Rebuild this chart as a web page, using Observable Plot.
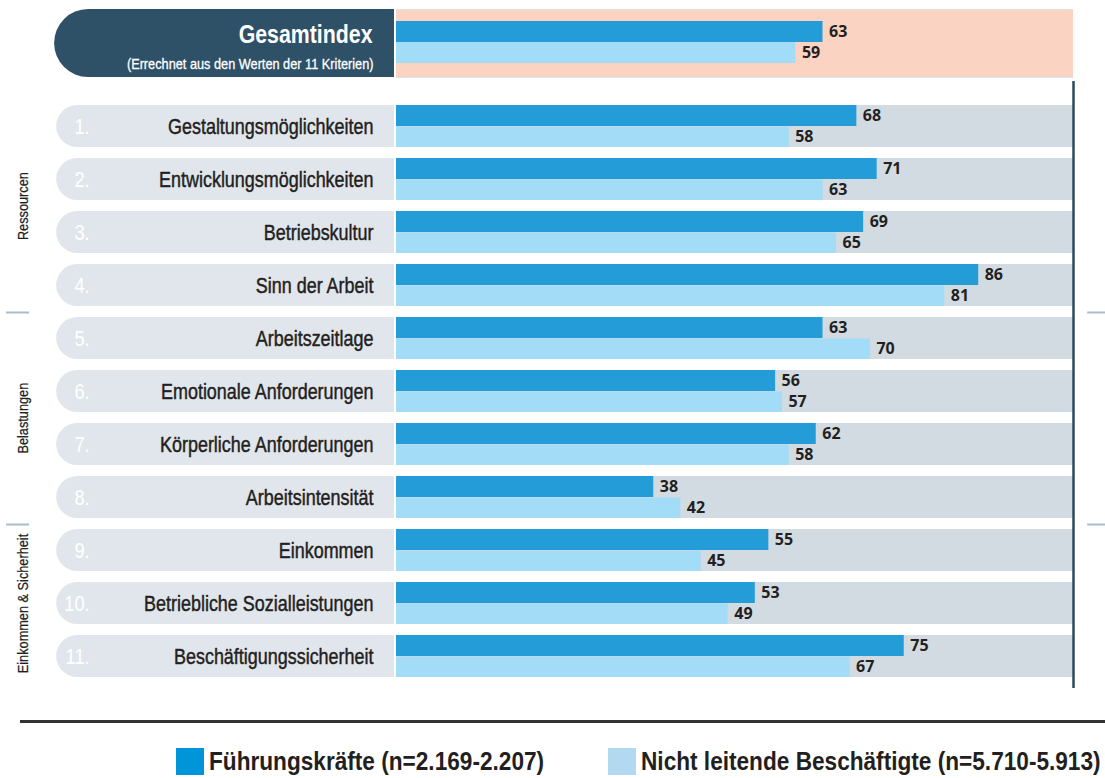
<!DOCTYPE html>
<html>
<head>
<meta charset="utf-8">
<script src="https://cdn.jsdelivr.net/npm/d3@7"></script>
<script src="https://cdn.jsdelivr.net/npm/@observablehq/plot@0.6"></script>
<style>
  html, body { margin: 0; padding: 0; background: #fff; }
  #wrap { width: 1105px; }
  #wrap svg { display: block; }
  #bottom { position: relative; height: 78px; width: 1105px; font-family: "Liberation Sans", Arial, sans-serif; }
  #bottom .line { position: absolute; left: 20px; right: 0; top: 20px; height: 3px; background: #333; }
  #bottom .sw { position: absolute; top: 48px; width: 28px; height: 27px; }
  #bottom .lab { position: absolute; top: 46px; font-size: 25px; font-weight: bold; color: #231f20; line-height: 30px; white-space: nowrap; transform: scaleX(0.905); transform-origin: 0 50%; }
</style>
</head>
<body>
<div id="wrap"></div>
<div id="bottom"></div>
<script>
// ---- data ----
const criteria = [
  "Gestaltungsmöglichkeiten", "Entwicklungsmöglichkeiten", "Betriebskultur", "Sinn der Arbeit",
  "Arbeitszeitlage", "Emotionale Anforderungen", "Körperliche Anforderungen", "Arbeitsintensität",
  "Einkommen", "Betriebliche Sozialleistungen", "Beschäftigungssicherheit"
];
const numbers = ["1.", "2.", "3.", "4.", "5.", "6.", "7.", "8.", "9.", "10.", "11."];
const fuehrungskraefte = [68, 71, 69, 86, 63, 56, 62, 38, 55, 53, 75];
const nichtLeitende = [58, 63, 65, 81, 70, 57, 58, 42, 45, 49, 67];
const gesamtLabel = ["Gesamtindex"];
const gesamtSub = ["(Errechnet aus den Werten der 11 Kriterien)"];
const gesamtFK = [63];
const gesamtNL = [59];
const groups = ["Ressourcen", "Belastungen", "Einkommen & Sicherheit"];
const groupFirst = [0, 4, 8];
const groupLast = [3, 7, 10];
const seriesNames = ["Führungskräfte (n=2.169-2.207)", "Nicht leitende Beschäftigte (n=5.710-5.913)"];

// ---- style ----
const FONT = '"Liberation Sans", Arial, sans-serif';
const NUMFONT = '"Open Sans", "DejaVu Sans", sans-serif';
const DARK = "#249cd8", LIGHT = "#a2dcf7", GRAY = "#d3dbe2", PILL = "#e1e6ec";
const NAVY = "#2e5168", SALMON = "#fbd3c2", SEP = "#a9bdcc", INK = "#231f20";
const STEP = 53.3;

const rows = criteria.map((c, i) => ({c, num: numbers[i], fk: fuehrungskraefte[i], nl: nichtLeitende[i]}));
const gRows = gesamtLabel.map((g, i) => ({g, sub: gesamtSub[i], fk: gesamtFK[i], nl: gesamtNL[i]}));

const common = {
  width: 1105, marginLeft: 396, marginRight: 32,
  x: {domain: [0, 100], axis: null},
  style: {fontFamily: FONT, background: "transparent", overflow: "visible"}
};

// ---- top: Gesamtindex ----
const topChart = Plot.plot({
  ...common,
  height: 80, marginTop: 9, marginBottom: 3,
  y: {domain: gesamtLabel, axis: null, padding: 0},
  marks: [
    Plot.barX(gRows, {x1: -50.5, x2: 0, y: "g", fill: NAVY, rx: 34, insetRight: 2}),
    Plot.barX(gRows, {x1: -25, x2: 0, y: "g", fill: NAVY, insetRight: 2}),
    Plot.barX(gRows, {x1: 0, x2: 100, y: "g", fill: SALMON}),
    Plot.ruleY(gRows, {y: "g", x1: 0, x2: 100, dy: -34, stroke: "#dde3e8", strokeWidth: 1}),
    Plot.ruleY(gRows, {y: "g", x1: 0, x2: 100, dy: 34, stroke: "#dde3e8", strokeWidth: 1}),
    Plot.barX(gRows, {x: "fk", y: "g", fill: DARK, insetTop: 12, insetBottom: 35}),
    Plot.barX(gRows, {x: "nl", y: "g", fill: LIGHT, insetTop: 33, insetBottom: 14}),
    Plot.text(gRows, {x: "fk", y: "g", text: d => String(d.fk), dx: 6, dy: -11.5, textAnchor: "start", fontFamily: NUMFONT, fontWeight: 700, fontSize: 16, fill: INK}),
    Plot.text(gRows, {x: "nl", y: "g", text: d => String(d.nl), dx: 6, dy: 9.5, textAnchor: "start", fontFamily: NUMFONT, fontWeight: 700, fontSize: 16, fill: INK}),
    Plot.text(gRows, {x: 0, y: "g", text: "g", dx: -24, dy: -9, textAnchor: "end", fontWeight: 700, fontSize: 26, fill: "#fff"}),
    Plot.text(gRows, {x: 0, y: "g", text: "sub", dx: -23, dy: 21, textAnchor: "end", fontSize: 15, fill: "#fff", stroke: "#fff", strokeWidth: 0.3})
  ]
});

// ---- criteria rows ----
const groupCenter = groups.map((g, i) => {
  const a = groupFirst[i], b = groupLast[i];
  const m = Math.floor((a + b) / 2);
  return {g, y: criteria[m], dy: ((a + b) % 2) ? STEP / 2 : 0};
});
const seps = groupLast.slice(0, -1).map(i => criteria[i]);

const mainChart = Plot.plot({
  ...common,
  height: 620, marginTop: 23, marginBottom: 22,
  y: {domain: criteria, axis: null, paddingInner: 0.21, paddingOuter: 0},
  marks: [
    Plot.barX(rows, {x1: -50.2, x2: 0, y: "c", fill: PILL, rx: 21, insetRight: 2}),
    Plot.barX(rows, {x1: -25, x2: 0, y: "c", fill: PILL, insetRight: 2}),
    Plot.barX(rows, {x1: 0, x2: 100, y: "c", fill: GRAY}),
    Plot.barX(rows, {x: "fk", y: "c", fill: DARK, insetBottom: 21}),
    Plot.barX(rows, {x: "nl", y: "c", fill: LIGHT, insetTop: 21.5}),
    Plot.text(rows, {x: "fk", y: "c", text: d => String(d.fk), dx: 6, dy: -10.5, textAnchor: "start", fontFamily: NUMFONT, fontWeight: 700, fontSize: 16, fill: INK}),
    Plot.text(rows, {x: "nl", y: "c", text: d => String(d.nl), dx: 6, dy: 10.5, textAnchor: "start", fontFamily: NUMFONT, fontWeight: 700, fontSize: 16, fill: INK}),
    Plot.text(rows, {x: 0, y: "c", text: "c", dx: -23, dy: 1, textAnchor: "end", fontSize: 21.5, fill: INK, stroke: INK, strokeWidth: 0.45}),
    Plot.text(rows, {x: -50.2, y: "c", text: "num", dx: 33, dy: 1, textAnchor: "end", fontSize: 21.5, fill: "#fff"}),
    Plot.ruleX([100], {insetTop: -22, insetBottom: -10, stroke: "#2b4a60", strokeWidth: 2.5}),
    Plot.ruleY(seps, {y: d => d, dy: 27, x1: -57.6, x2: -54.2, stroke: SEP, strokeWidth: 2}),
    Plot.ruleY(seps, {y: d => d, dy: 27, x1: 102.1, x2: 104.8, stroke: SEP, strokeWidth: 2}),
    Plot.text(groupCenter, {x: -55.2, y: "y", text: "g", rotate: -90, textAnchor: "middle", fontSize: 15, fill: INK, stroke: INK, strokeWidth: 0.25})
  ]
});

document.getElementById("wrap").append(topChart, mainChart);

// condensed look: squeeze chosen texts horizontally (along their own baseline)
const squeeze = new Map();
criteria.forEach(s => squeeze.set(s, 0.835));
numbers.forEach(s => squeeze.set(s, 0.85));
gesamtLabel.forEach(s => squeeze.set(s, 0.82));
gesamtSub.forEach(s => squeeze.set(s, 0.85));
groups.forEach(s => squeeze.set(s, 0.85));
const groupShift = new Map(groupCenter.map(d => [d.g, d.dy]));

document.querySelectorAll("#wrap text").forEach(t => {
  const s = t.textContent;
  if (!squeeze.has(s)) return;
  let tr = t.getAttribute("transform");
  if (!tr) {
    const x = +t.getAttribute("x") || 0, y = +t.getAttribute("y") || 0;
    t.removeAttribute("x"); t.removeAttribute("y");
    tr = `translate(${x},${y})`;
  }
  const pre = groupShift.has(s) ? `translate(0,${groupShift.get(s)}) ` : "";
  t.setAttribute("transform", `${pre}${tr} scale(${squeeze.get(s)},1)`);
});

// ---- bottom legend ----
const bottom = document.getElementById("bottom");
const line = document.createElement("div"); line.className = "line"; bottom.append(line);
const swCols = ["#0095d9", "#b3d9f0"];
const swLeft = [176, 608];
seriesNames.forEach((s, i) => {
  const sw = document.createElement("div"); sw.className = "sw";
  sw.style.left = swLeft[i] + "px"; sw.style.background = swCols[i];
  const lb = document.createElement("div"); lb.className = "lab";
  lb.style.left = (swLeft[i] + 33) + "px"; lb.textContent = s;
  bottom.append(sw, lb);
});
</script>
</body>
</html>
